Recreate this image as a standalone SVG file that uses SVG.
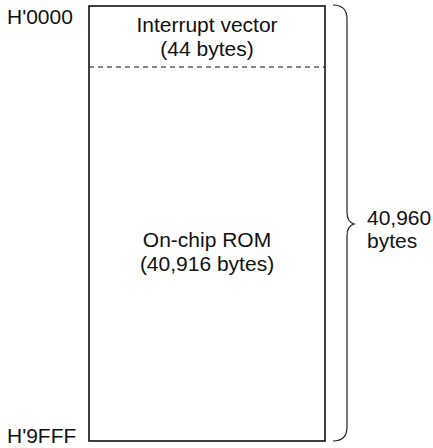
<svg xmlns="http://www.w3.org/2000/svg" width="433" height="448" viewBox="0 0 433 448">
<style>
text{font-family:"Liberation Sans",Arial,sans-serif;font-size:21px;fill:#111}
.c{text-anchor:middle}
.box{fill:#fff;stroke:#111;stroke-width:1.6}
.dash{stroke:#111;stroke-width:1;stroke-dasharray:5,4;fill:none}
.brace{fill:none;stroke:#222;stroke-width:1.2}
</style>
<rect width="433" height="448" fill="#fff"/>
<g id="memory">
<rect class="box" x="89" y="6" width="236" height="435"/>
</g>
<g id="connectors">
<line class="dash" x1="89" y1="67" x2="325" y2="67"/>
<path class="brace" d="M333,5 Q347,5 347,19 L347,212 Q347,222 354,224 Q347,226 347,236 L347,427 Q347,441 333,441"/>
</g>
<g id="vector">
<text class="c" x="207" y="32">Interrupt vector</text>
<text class="c" x="207" y="56">(44 bytes)</text>
</g>
<g id="rom">
<text class="c" x="207" y="247">On-chip ROM</text>
<text class="c" x="207" y="271">(40,916 bytes)</text>
</g>
<g id="labels">
<text x="7" y="24">H'0000</text>
<text x="7" y="443">H'9FFF</text>
<text x="367" y="225">40,960</text>
<text x="367" y="248">bytes</text>
</g>
</svg>
